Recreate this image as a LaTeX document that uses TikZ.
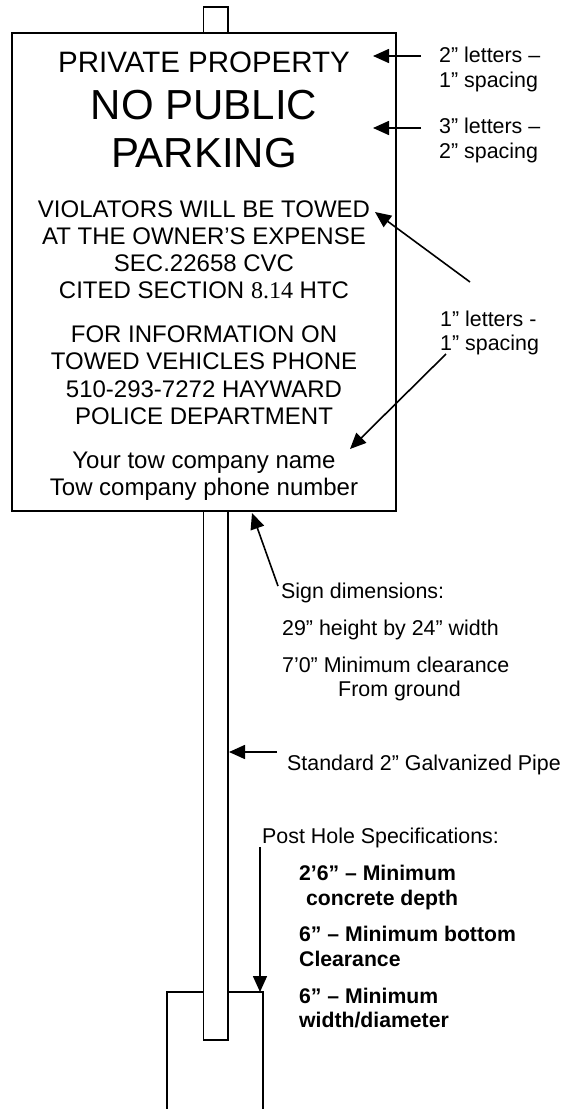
\documentclass[tikz,border=0pt]{standalone}
\usepackage{fontspec}
\setmainfont{Liberation Sans}
\newfontfamily\timesfont{Liberation Serif}
\usetikzlibrary{arrows.meta}

\begin{document}
\begin{tikzpicture}[x=1pt, y=-1pt,
    signtext/.style={anchor=base, inner sep=0pt, font=\fontsize{24}{28}\selectfont},
    note/.style={anchor=base west, inner sep=0pt, font=\fontsize{21.4}{25}\selectfont},
    boldnote/.style={note, font=\fontsize{21.2}{25}\selectfont\bfseries},
    pointer/.style={line width=1.6pt, -{Triangle[length=16pt, width=14pt]}}]
  \useasboundingbox (0,0) rectangle (562,1109);

  % The post hole, drawn first so that the pole covers its top edge
  \draw [line width=1.4pt] (167,1109) -- (167,992) -- (263,992) -- (263,1109);
  % The pole, from the stub above the sign down into the hole
  \filldraw [fill=white, line width=1.4pt] (203.5,7) rectangle (228,1040);
  % The sign board
  \filldraw [fill=white, line width=2pt] (12,33) rectangle (396,511);

  % Sign text
  \node [signtext, font=\fontsize{29.5}{33}\selectfont] (private) at (204,72) {PRIVATE PROPERTY};
  \node [signtext, font=\fontsize{42}{48}\selectfont] (nopublic) at (204,119) {NO PUBLIC};
  \node [signtext, font=\fontsize{42}{48}\selectfont] (parking) at (204,167) {PARKING};
  \foreach \n/\y/\txt in {
    1/217/{VIOLATORS WILL BE TOWED},
    2/244/{AT THE OWNER’S EXPENSE},
    3/271/{SEC.22658 CVC},
    4/298/{CITED SECTION {\timesfont 8.14} HTC},
    5/342/{FOR INFORMATION ON},
    6/369/{TOWED VEHICLES PHONE},
    7/397/{510-293-7272 HAYWARD},
    8/424/{POLICE DEPARTMENT},
    9/468/{Your tow company name},
    10/495/{Tow company phone number}} {
    \node [signtext] (line\n) at (204,\y) {\txt};
  }

  % Letter size notes on the right
  \node [note] (twoinch) at (439,62) {2” letters –};
  \node [note] (twoinchsp) at (439,87) {1” spacing};
  \node [note] (threeinch) at (439,133) {3” letters –};
  \node [note] (threeinchsp) at (439,158) {2” spacing};
  \node [note] (oneinch) at (440,326) {1” letters -};
  \node [note] (oneinchsp) at (440,350) {1” spacing};

  % Sign and pipe notes
  \node [note] (dims) at (281,598) {Sign dimensions:};
  \node [note] (dimsize) at (282,635) {29” height by 24” width};
  \node [note] (clearance) at (282,672) {7’0” Minimum clearance};
  \node [note] (ground) at (338,696) {From ground};
  \node [note] (pipe) at (287,770) {Standard 2” Galvanized Pipe};

  % Post hole notes
  \node [note] (holespec) at (262,843) {Post Hole Specifications:};
  \foreach \n/\x/\y/\txt in {
    1/299/880/{2’6” – Minimum},
    2/306/905/{concrete depth},
    3/299/941/{6” – Minimum bottom},
    4/299/966/{Clearance},
    5/299/1003/{6” – Minimum},
    6/299/1027/{width/diameter}} {
    \node [boldnote] (spec\n) at (\x,\y) {\txt};
  }

  % Ends of the pointers
  \coordinate (twotail) at (421,56);
  \coordinate (twotip) at (373,56);
  \coordinate (threetail) at (421,128);
  \coordinate (threetip) at (373,128);
  \coordinate (onetail) at (470,282);
  \coordinate (onetip) at (375,212);
  \coordinate (onetailb) at (446,354);
  \coordinate (onetipb) at (350,449);
  \coordinate (dimtail) at (278,586);
  \coordinate (dimtip) at (252,513);
  \coordinate (pipetail) at (277,752);
  \coordinate (pipetip) at (229,752);
  \coordinate (holetail) at (260,847);
  \coordinate (holetip) at (260,992);

  \draw [pointer] (twotail) -- (twotip);
  \draw [pointer] (threetail) -- (threetip);
  \draw [pointer] (onetail) -- (onetip);
  \draw [pointer] (onetailb) -- (onetipb);
  \draw [pointer] (dimtail) -- (dimtip);
  \draw [pointer] (pipetail) -- (pipetip);
  \draw [pointer] (holetail) -- (holetip);
\end{tikzpicture}
\end{document}
